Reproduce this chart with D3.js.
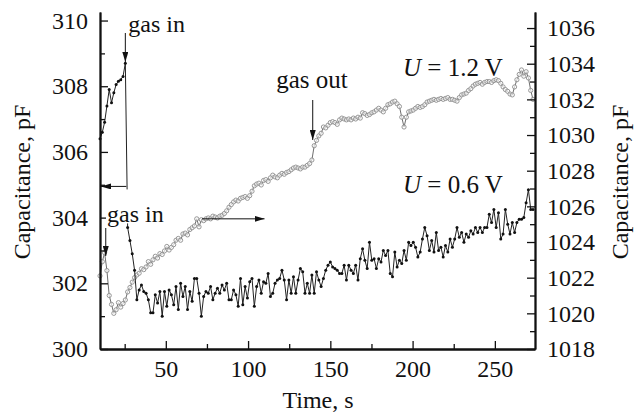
<!DOCTYPE html>
<html><head><meta charset="utf-8">
<script src="https://cdn.jsdelivr.net/npm/d3@7"></script>
<style>
html,body{margin:0;padding:0;background:#fff;}
svg{display:block;}
svg text{font-family:"Liberation Serif","Times New Roman",Times,serif !important;fill:#111;}
</style></head><body>
<svg id="c" width="636" height="415"></svg>
<script>
// sampling of both records (s)
const T0 = 10, DT = 1.4;
const xDomain = [10, 274.4];
const leftDomain = [300, 310.26];
const rightDomain = [1018, 1036.9];
const xTicks = [50, 100, 150, 200, 250];
const xMinor = [25, 75, 125, 175, 225];
const leftTicks = [300, 302, 304, 306, 308, 310];
const leftMinor = [301, 303, 305, 307, 309];
const rightTicks = [1018, 1020, 1022, 1024, 1026, 1028, 1030, 1032, 1034, 1036];
const rightMinor = [1019, 1021, 1023, 1025, 1027, 1029, 1031, 1033, 1035];

// U = 0.6 V, left axis (pF)
const cap06 = [
 306.4, 306.6, 306.9, 307.4, 307.9, 307.5, 307.8, 308.05, 308.15, 308.2, 308.3, 308.7, 303.7, 303.3, 302.9, 302.4,
 301.5, 301.8, 301.95, 301.75, 301.7, 301.5, 301.1, 301.1, 301.65, 301.4, 301.75, 301.0, 301.75, 301.3, 301.8, 301.65,
 301.35, 301.9, 301.2, 302.0, 301.6, 301.9, 301.2, 301.75, 301.45, 302.15, 302.15, 301.7, 301.0, 301.6, 301.75, 301.7,
 301.9, 301.5, 301.7, 301.85, 301.7, 301.95, 301.8, 302.0, 301.5, 301.5, 301.8, 301.65, 301.3, 302.15, 301.35, 301.9,
 301.55, 302.05, 302.15, 301.3, 301.9, 302.1, 301.7, 302.05, 302.0, 302.3,
 301.6, 301.7, 302.0, 302.1, 302.15, 302.4, 302.1, 301.5, 302.1, 301.7,
 302.2, 301.7, 302.1, 302.45, 302.35, 301.7, 302.0, 301.7, 302.25, 301.7,
 302.35, 302.1, 301.9, 302.15, 302.4, 302.55, 302.65, 302.5, 302.45, 302.4,
 302.3, 302.3, 302.55, 302.1, 302.55, 302.4, 302.3, 302.55, 302.1, 302.75,
 303.05, 302.7, 302.45, 303.25, 302.7, 302.75, 302.45, 302.75, 302.65, 303.0,
 302.85, 303.0, 302.3, 302.2, 302.95, 302.5, 302.7, 302.6, 303.0, 302.7,
 303.25, 303.15, 303.25, 303.1, 302.8, 302.95, 303.35, 303.7, 303.45, 303.0,
 303.3, 302.95, 303.55, 303.0, 303.1, 302.8, 303.15, 302.95, 303.35, 303.1,
 303.35, 303.7, 303.4, 303.55, 303.25, 303.5, 303.4, 303.6, 303.5, 303.7,
 303.55, 303.7, 303.55, 303.7, 303.7, 304.1, 303.85, 304.25, 303.7, 304.15,
 303.35, 303.5, 304.25, 303.8, 303.5, 303.85, 303.55, 303.85, 303.95, 303.95,
 304.0, 304.45, 304.85, 304.25, 304.25
];

// U = 1.2 V, right axis (pF)
const cap12 = [
 1022.1, 1022.9, 1023.4, 1022.4, 1021.0, 1020.5, 1020.0, 1020.2, 1020.6, 1020.35,
 1020.55, 1020.75, 1021.2, 1021.45, 1021.75, 1022.0, 1022.15, 1022.25, 1022.5, 1022.45,
 1022.6, 1022.9, 1022.75, 1023.0, 1023.2, 1023.1, 1023.35, 1023.3, 1023.5, 1023.75,
 1023.55, 1023.7, 1023.85, 1024.1, 1024.2, 1024.1, 1024.45, 1024.5, 1024.4, 1024.7,
 1024.8, 1024.9, 1025.3, 1024.85, 1025.25, 1025.2, 1025.3, 1025.35, 1025.3, 1025.45,
 1025.4, 1025.35, 1025.45, 1025.5, 1025.6, 1025.75, 1025.95, 1026.1, 1026.25, 1026.35,
 1026.3, 1026.45, 1026.5, 1026.55, 1026.45, 1026.6, 1026.85, 1027.15, 1027.25, 1027.3,
 1027.2, 1027.45, 1027.5, 1027.4, 1027.6, 1027.75, 1027.65, 1027.6, 1027.75, 1027.85,
 1027.8, 1027.9, 1027.95, 1028.05, 1028.15, 1028.2, 1028.15, 1028.1, 1028.2, 1028.2,
 1028.3, 1028.4, 1028.6, 1029.4, 1029.7, 1029.95, 1030.1, 1030.45, 1030.4, 1030.55,
 1030.7, 1030.75, 1030.7, 1030.6, 1030.85, 1030.95, 1030.9, 1030.85, 1030.9, 1030.85,
 1030.95, 1030.9, 1031.0, 1030.95, 1031.25, 1031.2, 1031.1, 1031.15, 1031.25, 1031.3,
 1031.4, 1031.5, 1031.4, 1031.3, 1031.5, 1031.7, 1031.75, 1031.85, 1031.9, 1031.75,
 1031.6, 1031.0, 1030.45, 1031.0, 1031.3, 1031.35, 1031.4, 1031.5, 1031.6, 1031.55,
 1031.6, 1031.7, 1031.85, 1031.9, 1031.95, 1032.0, 1031.95, 1032.0, 1032.05, 1032.0,
 1032.05, 1032.1, 1032.0, 1032.0, 1031.95, 1031.9, 1032.1, 1032.25, 1032.3, 1032.35,
 1032.5, 1032.6, 1032.75, 1032.85, 1032.9, 1032.95, 1032.85, 1032.95, 1033.0, 1033.0,
 1032.95, 1033.05, 1033.1, 1033.05, 1032.9, 1032.7, 1032.55, 1032.45, 1032.3, 1032.25,
 1032.7, 1033.1, 1033.4, 1033.65, 1033.3, 1033.55, 1033.2, 1032.5, 1032.0
];

const FONT = '"Liberation Serif","Times New Roman",Times,serif';
const svg = d3.select("#c");
const M = {left: 100, right: 535, top: 12, bottom: 349};
const x = d3.scaleLinear().domain(xDomain).range([M.left, M.right]);
const yL = d3.scaleLinear().domain(leftDomain).range([M.bottom, M.top]);
const yR = d3.scaleLinear().domain(rightDomain).range([M.bottom, M.top]);

const defs = svg.append("defs");
defs.append("marker").attr("id", "ah").attr("viewBox", "0 0 10 6")
  .attr("refX", 10).attr("refY", 3).attr("markerWidth", 10).attr("markerHeight", 6)
  .attr("markerUnits", "userSpaceOnUse").attr("orient", "auto")
  .append("path").attr("d", "M0,0L10,3L0,6Z").attr("fill", "#111");

const d06 = cap06.map((v, i) => ({t: T0 + DT * i, v}));
const d12 = cap12.map((v, i) => ({t: T0 + DT * i, v}));

// gray series (right axis)
svg.append("path").datum(d12)
  .attr("fill", "none").attr("stroke", "#6e6e6e").attr("stroke-width", 1)
  .attr("d", d3.line().x(d => x(d.t)).y(d => yR(d.v)));
svg.append("g").selectAll("circle").data(d12).join("circle")
  .attr("cx", d => x(d.t)).attr("cy", d => yR(d.v)).attr("r", 2.1)
  .attr("fill", "#fff").attr("fill-opacity", 0.6).attr("stroke", "#8c8c8c").attr("stroke-width", 0.9);

// black series (left axis)
svg.append("path").datum(d06)
  .attr("fill", "none").attr("stroke", "#222").attr("stroke-width", 1)
  .attr("d", d3.line().x(d => x(d.t)).y(d => yL(d.v)));
svg.append("g").selectAll("circle").data(d06).join("circle")
  .attr("cx", d => x(d.t)).attr("cy", d => yL(d.v)).attr("r", 1.5)
  .attr("fill", "#111");

// axes
const fs = "24px";
const fmt = d3.format("d");
const ax = svg.append("g").attr("transform", `translate(0,${M.bottom})`)
  .call(d3.axisBottom(x).tickValues(xTicks).tickFormat(fmt).tickSize(-8).tickPadding(11).tickSizeOuter(0));
const axm = svg.append("g").attr("transform", `translate(0,${M.bottom})`)
  .call(d3.axisBottom(x).tickValues(xMinor).tickSize(-5).tickFormat("").tickSizeOuter(0));
const al = svg.append("g").attr("transform", `translate(${M.left},0)`)
  .call(d3.axisLeft(yL).tickValues(leftTicks).tickFormat(fmt).tickSize(-8).tickPadding(12).tickSizeOuter(0));
const alm = svg.append("g").attr("transform", `translate(${M.left},0)`)
  .call(d3.axisLeft(yL).tickValues(leftMinor).tickSize(-5).tickFormat("").tickSizeOuter(0));
const ar = svg.append("g").attr("transform", `translate(${M.right},0)`)
  .call(d3.axisRight(yR).tickValues(rightTicks).tickFormat(fmt).tickSize(-8).tickPadding(12).tickSizeOuter(0));
const arm = svg.append("g").attr("transform", `translate(${M.right},0)`)
  .call(d3.axisRight(yR).tickValues(rightMinor).tickSize(-5).tickFormat("").tickSizeOuter(0));
[ax, axm, al, alm, ar, arm].forEach(g => {
  g.attr("font-family", FONT).attr("font-size", fs);
  g.select(".domain").attr("stroke", "#111").attr("stroke-width", 1.8);
  g.selectAll(".tick line").attr("stroke", "#111").attr("stroke-width", 1.3);
  g.selectAll(".tick text").attr("fill", "#111").style("font-family", FONT).style("font-size", fs);
});

// axis titles
function label(sel) { return sel.style("font-family", FONT).attr("fill", "#111"); }
label(svg.append("text").attr("transform", "translate(30,182) rotate(-90)")
  .attr("text-anchor", "middle").attr("font-size", fs).text("Capacitance, pF"));
label(svg.append("text").attr("transform", "translate(628,182) rotate(-90)")
  .attr("text-anchor", "middle").attr("font-size", fs).text("Capacitance, pF"));
label(svg.append("text").attr("x", 318).attr("y", 408)
  .attr("text-anchor", "middle").attr("font-size", fs).text("Time, s"));

// annotations
const ann = svg.append("g");
function arrow(x1, y1, x2, y2) {
  ann.append("line").attr("x1", x1).attr("y1", y1).attr("x2", x2).attr("y2", y2)
    .attr("stroke", "#111").attr("stroke-width", 1).attr("marker-end", "url(#ah)");
}
const tPeak = T0 + DT * 11;
arrow(x(tPeak), 33, x(tPeak), 62);
label(ann.append("text").attr("x", x(tPeak) + 3).attr("y", 32).attr("font-size", "24px").text("gas in"));
arrow(x(tPeak) + 1, yL(304.95), M.left + 1, yL(304.95));
// white backing under the lower "gas in" label (masks the drop line as in the original)
ann.append("rect").attr("x", 106).attr("y", yL(304.95) + 3).attr("width", 58).attr("height", 34).attr("fill", "#fff");
label(ann.append("text").attr("x", 107).attr("y", 222).attr("font-size", "24px").text("gas in"));
arrow(x(13.5), 228, x(13.5), 256);
arrow(x(72), yR(1025.3), x(110), yR(1025.3));
label(ann.append("text").attr("x", 312).attr("y", 88).attr("text-anchor", "middle").attr("font-size", "25px").text("gas out"));
arrow(x(139.3), 100, x(139.3), 140);
const u1 = label(ann.append("text").attr("x", 403).attr("y", 76).attr("font-size", "25px"));
u1.append("tspan").attr("font-style", "italic").text("U");
u1.append("tspan").text(" = 1.2 V");
const u2 = label(ann.append("text").attr("x", 403).attr("y", 193).attr("font-size", "25px"));
u2.append("tspan").attr("font-style", "italic").text("U");
u2.append("tspan").text(" = 0.6 V");
</script>
</body></html>
